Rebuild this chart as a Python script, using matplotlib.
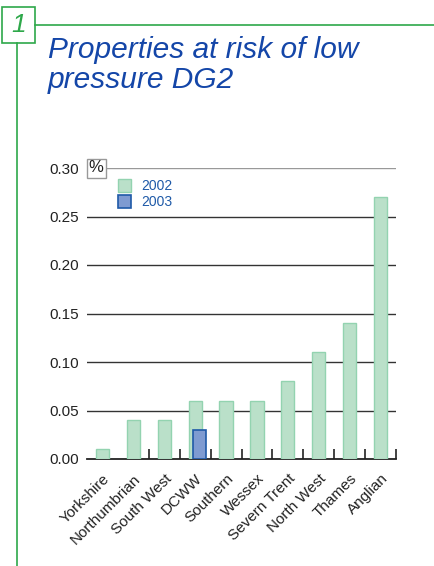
import matplotlib
matplotlib.use('Agg')
import matplotlib.pyplot as plt
import matplotlib.transforms as mtransforms
import numpy as np
from matplotlib.patches import Rectangle
from matplotlib.lines import Line2D

plt.rcParams['font.family'] = ['Liberation Sans', 'DejaVu Sans']

companies = ['Yorkshire', 'Northumbrian', 'South West', 'DCWW', 'Southern',
             'Wessex', 'Severn Trent', 'North West', 'Thames', 'Anglian']
risk_2002 = [0.01, 0.04, 0.04, 0.06, 0.06, 0.06, 0.08, 0.11, 0.14, 0.27]
risk_2003 = [None, None, None, 0.03, None, None, None, None, None, None]
yticks = [0.00, 0.05, 0.10, 0.15, 0.20, 0.25, 0.30]

green_fill = '#bae0c9'
green_edge = '#93d3b0'
blue_fill = '#7f9bd1'
blue_edge = '#1f5aa8'
frame_green = '#2ea84a'
title_blue = '#1446a8'

fig = plt.figure(figsize=(4.34, 5.66), dpi=100)

# frame decoration
fig.add_artist(Rectangle((2/434, 1-43/566), 33/434, 36/566, transform=fig.transFigure,
                         fill=False, edgecolor=frame_green, lw=1.2))
fig.add_artist(Line2D([35/434, 1], [1-25/566, 1-25/566], transform=fig.transFigure,
                      color=frame_green, lw=1.2))
fig.add_artist(Line2D([17/434, 17/434], [0, 1-43/566], transform=fig.transFigure,
                      color=frame_green, lw=1.2))
fig.text(18.5/434, 1-25/566, '1', color=frame_green, fontsize=19, style='italic',
         ha='center', va='center')

fig.text(48/434, 1-58/566, 'Properties at risk of low', color=title_blue,
         fontsize=21.5, style='italic', ha='left', va='baseline')
fig.text(48/434, 1-88/566, 'pressure DG2', color=title_blue,
         fontsize=21.5, style='italic', ha='left', va='baseline')

ax = fig.add_axes([87/434, 1-459/566, 309/434, 291/566])
x = np.arange(len(companies))
ax.bar(x, risk_2002, width=0.43, color=green_fill, edgecolor=green_edge, lw=1, zorder=3)
x3 = [xi + 0.15 for xi, v in zip(x, risk_2003) if v is not None]
v3 = [v for v in risk_2003 if v is not None]
ax.bar(x3, v3, width=0.43, color=blue_fill, edgecolor=blue_edge, lw=1.2, zorder=4)

ax.set_xlim(-0.5, len(companies) - 0.5)
ax.set_ylim(0, 0.30)
ax.set_yticks(yticks)
ax.set_yticklabels(['%.2f' % t for t in yticks], fontsize=11, color='#222222')
ax.tick_params(axis='y', length=0, pad=6)
for t in yticks[1:-1]:
    ax.axhline(t, color='#333333', lw=1, zorder=1)
ax.axhline(0.30, xmin=19/309, color='#999999', lw=1, zorder=1)

for s in ['top', 'left', 'right']:
    ax.spines[s].set_visible(False)
ax.spines['bottom'].set_color('#222222')
ax.spines['bottom'].set_linewidth(1.3)

ax.set_xticks(x)
ax.set_xticklabels(companies, rotation=45, ha='right', rotation_mode='anchor',
                   fontsize=11, color='#222222')
ax.tick_params(axis='x', which='major', length=0, pad=9)
ax.set_xticks(x[1:] + 0.5, minor=True)
ax.tick_params(axis='x', which='minor', direction='in', length=7, width=1.2, color='#222222')

trans = mtransforms.blended_transform_factory(ax.transAxes, ax.transData)
ax.text(0.006, 0.30, '%', fontsize=12, color='#222222', ha='left', va='center',
        transform=trans,
        bbox=dict(boxstyle='square,pad=0.12', facecolor='white', edgecolor='#999999', lw=1),
        zorder=5)

# legend
fig.add_artist(Rectangle((118/434, 1-192/566), 13/434, 13/566, transform=fig.transFigure,
                         facecolor=green_fill, edgecolor=green_edge, lw=1))
fig.add_artist(Rectangle((118/434, 1-208/566), 13/434, 13/566, transform=fig.transFigure,
                         facecolor=blue_fill, edgecolor=blue_edge, lw=1.2))
fig.text(141/434, 1-185.5/566, '2002', color='#1f5aa8', fontsize=10, va='center')
fig.text(141/434, 1-201.5/566, '2003', color='#1f5aa8', fontsize=10, va='center')

fig.savefig('out.png', dpi=100)
